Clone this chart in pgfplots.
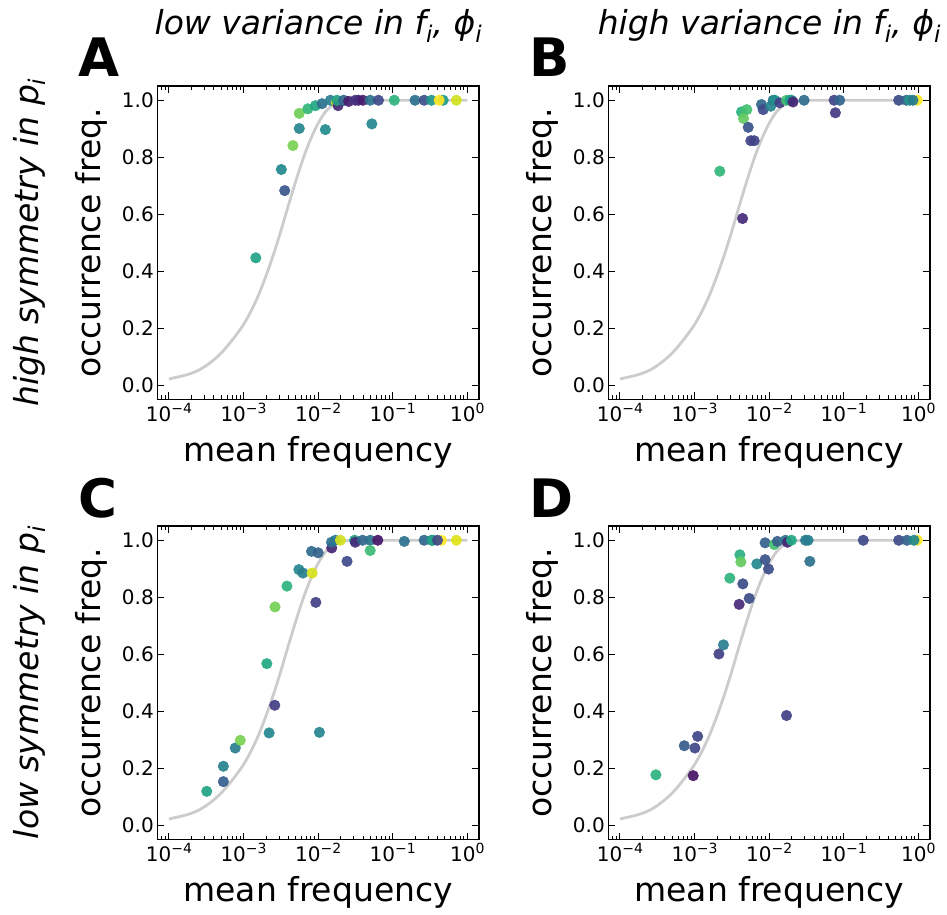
\documentclass[border=0pt]{standalone}
\usepackage{fontspec}
\setmainfont{DejaVu Sans}[ItalicFont={DejaVu Sans Oblique},BoldFont={DejaVu Sans Bold},BoldItalicFont={DejaVu Sans Bold Oblique}]
\usepackage{pgfplots}
\usepackage{pgfplotstable}
\pgfplotsset{compat=1.18}
\definecolor{curvegray}{RGB}{204,204,204}
\pgfplotsset{colormap={myviridis}{rgb255=(68,1,84) rgb255=(71,19,101) rgb255=(72,36,117) rgb255=(70,52,128) rgb255=(65,68,135) rgb255=(59,82,139) rgb255=(53,95,141) rgb255=(47,108,142) rgb255=(42,120,142) rgb255=(37,132,142) rgb255=(33,145,140) rgb255=(30,156,137) rgb255=(34,168,132) rgb255=(47,180,124) rgb255=(68,191,112) rgb255=(94,201,98) rgb255=(122,209,81) rgb255=(155,217,60) rgb255=(189,223,38) rgb255=(223,227,24) rgb255=(253,231,37)}}
\newcommand{\tp}[1]{10\raisebox{0.42em}{\fontsize{14}{14}\selectfont #1}}
\newcommand{\sub}[1]{\raisebox{-0.22em}{\fontsize{23}{23}\selectfont #1}}
\newcommand{\bigfont}{\fontsize{33}{40}\selectfont}

\pgfplotstableread{
x y
1e-4 0.022
1.259e-4 0.028
1.585e-4 0.034
1.995e-4 0.042
2.512e-4 0.053
3.162e-4 0.069
3.981e-4 0.089
5.012e-4 0.113
6.310e-4 0.143
7.943e-4 0.176
1e-3 0.213
1.259e-3 0.260
1.585e-3 0.316
1.995e-3 0.383
2.512e-3 0.458
3.162e-3 0.541
3.981e-3 0.630
5.012e-3 0.716
6.310e-3 0.796
7.943e-3 0.864
1e-2 0.919
1.259e-2 0.960
1.585e-2 0.984
1.995e-2 0.995
2.512e-2 0.999
3.162e-2 1.0
5.012e-2 1.0
1e-1 1.0
0.3162 1.0
1 1.0
}\curvedata

\pgfplotstableread{
x y c
1.459e-3 0.447 0.58
3.21e-3 0.757 0.47
3.56e-3 0.683 0.27
4.59e-3 0.841 0.80
5.58e-3 0.901 0.45
5.58e-3 0.954 0.78
7.28e-3 0.970 0.66
9.20e-3 0.981 0.60
1.13e-2 0.988 0.37
1.25e-2 0.897 0.48
1.46e-2 1.0 0.42
1.75e-2 0.993 0.92
1.85e-2 0.981 0.12
1.79e-2 1.0 0.57
2.20e-2 1.0 0.33
2.56e-2 0.996 0.08
3.15e-2 1.0 0.15
3.48e-2 1.0 0.13
3.98e-2 1.0 0.08
4.99e-2 1.0 0.38
5.25e-2 0.917 0.46
6.44e-2 1.0 0.22
0.105 1.0 0.65
0.199 1.0 0.37
0.264 1.0 0.24
0.331 1.0 0.53
0.474 1.0 0.55
0.419 1.0 1.0
0.713 1.0 0.93
}\dataA

\pgfplotstableread{
x y c
2.18e-3 0.751 0.66
4.40e-3 0.585 0.12
4.26e-3 0.959 0.64
5.02e-3 0.967 0.70
4.53e-3 0.936 0.76
5.24e-3 0.905 0.26
5.68e-3 0.858 0.20
6.30e-3 0.858 0.20
7.89e-3 0.985 0.33
8.32e-3 0.967 0.22
1.05e-2 0.979 0.45
1.13e-2 1.0 0.40
1.19e-2 1.0 0.50
1.39e-2 0.991 0.19
1.71e-2 1.0 0.70
1.89e-2 1.0 0.60
1.99e-2 1.0 0.55
2.09e-2 0.994 0.10
2.94e-2 1.0 0.36
7.43e-2 1.0 0.20
8.83e-2 1.0 0.32
7.73e-2 0.956 0.17
0.546 1.0 0.23
0.690 1.0 0.31
0.970 1.0 1.0
0.766 1.0 0.52
0.849 1.0 0.42
}\dataB

\pgfplotstableread{
x y c
3.21e-4 0.119 0.58
5.36e-4 0.207 0.44
5.36e-4 0.153 0.30
7.74e-4 0.271 0.42
9.04e-4 0.298 0.80
2.05e-3 0.567 0.60
2.20e-3 0.324 0.46
2.62e-3 0.421 0.18
2.64e-3 0.766 0.79
3.82e-3 0.839 0.65
5.52e-3 0.897 0.46
6.25e-3 0.885 0.43
8.15e-3 0.961 0.35
1.0e-2 0.956 0.31
8.32e-3 0.885 0.94
9.31e-3 0.782 0.19
1.04e-2 0.326 0.45
1.52e-2 0.973 0.10
1.51e-2 0.993 0.37
1.70e-2 1.0 0.40
1.99e-2 1.0 0.93
2.44e-2 0.926 0.22
3.08e-2 1.0 0.58
3.15e-2 0.993 0.12
3.94e-2 1.0 0.33
4.99e-2 1.0 0.38
4.99e-2 0.964 0.68
6.31e-2 1.0 0.06
0.143 0.996 0.37
0.264 1.0 0.33
0.331 1.0 0.50
0.348 1.0 0.58
0.450 1.0 1.0
0.398 1.0 0.22
0.713 1.0 0.95
}\dataC

\pgfplotstableread{
x y c
3.03e-4 0.177 0.64
9.59e-4 0.174 0.05
7.28e-4 0.279 0.29
1.01e-3 0.271 0.21
1.10e-3 0.312 0.21
2.12e-3 0.601 0.19
2.44e-3 0.633 0.42
2.97e-3 0.867 0.65
3.96e-3 0.775 0.12
4.05e-3 0.949 0.63
4.18e-3 0.924 0.76
4.44e-3 0.847 0.23
5.40e-3 0.796 0.23
6.84e-3 0.917 0.46
8.83e-3 0.932 0.25
8.83e-3 0.991 0.30
9.80e-3 0.899 0.23
1.17e-2 0.985 0.70
1.29e-2 0.996 0.30
1.71e-2 0.385 0.19
1.66e-2 1.0 0.40
1.76e-2 0.993 0.10
1.99e-2 1.0 0.60
3.07e-2 1.0 0.40
3.33e-2 1.0 0.43
3.51e-2 0.926 0.37
0.183 1.0 0.22
0.546 1.0 0.22
0.705 1.0 0.31
0.970 1.0 1.0
0.875 1.0 0.46
}\dataD

\pgfplotsset{every axis/.append style={
  xmode=log, scale only axis, width=321.7pt, height=313.5pt,
  anchor=south west,
  xmin=6.97e-5, xmax=1.435, ymin=-0.05, ymax=1.05,
  xtick={1e-4,1e-3,1e-2,1e-1,1},
  xticklabels={\tp{−4},\tp{−3},\tp{−2},\tp{−1},\tp{0}},
  minor xtick={7e-5,8e-5,9e-5,2e-4,3e-4,4e-4,5e-4,6e-4,7e-4,8e-4,9e-4,2e-3,3e-3,4e-3,5e-3,6e-3,7e-3,8e-3,9e-3,2e-2,3e-2,4e-2,5e-2,6e-2,7e-2,8e-2,9e-2,2e-1,3e-1,4e-1,5e-1,6e-1,7e-1,8e-1,9e-1},
  ytick={0,0.2,0.4,0.6,0.8,1},
  yticklabels={0.0,0.2,0.4,0.6,0.8,1.0},
  tick align=inside, major tick length=7pt, minor tick length=4pt,
  every tick/.style={black, line width=1pt},
  axis line style={line width=1.2pt},
  ticklabel style={font=\fontsize{20}{24}\selectfont},
  colormap name=myviridis, point meta min=0, point meta max=1,
}}

\begin{document}
\begin{tikzpicture}[x=1pt,y=1pt]
\useasboundingbox (0,0) rectangle (947,914);
\begin{axis}[at={(157.3pt,514.5pt)}]
\addplot[curvegray, line width=2.8pt, smooth, no marks] table[x=x,y=y] {\curvedata};
\addplot[scatter, only marks, mark=*, mark size=5.3pt, scatter src=explicit, fill opacity=0.92, draw opacity=0.92, scatter/use mapped color={draw=mapped color, fill=mapped color}] table[x=x,y=y,meta=c] {\dataA};
\end{axis}
\begin{axis}[at={(608.3pt,514.5pt)}]
\addplot[curvegray, line width=2.8pt, smooth, no marks] table[x=x,y=y] {\curvedata};
\addplot[scatter, only marks, mark=*, mark size=5.3pt, scatter src=explicit, fill opacity=0.92, draw opacity=0.92, scatter/use mapped color={draw=mapped color, fill=mapped color}] table[x=x,y=y,meta=c] {\dataB};
\end{axis}
\begin{axis}[at={(157.3pt,74.5pt)}]
\addplot[curvegray, line width=2.8pt, smooth, no marks] table[x=x,y=y] {\curvedata};
\addplot[scatter, only marks, mark=*, mark size=5.3pt, scatter src=explicit, fill opacity=0.92, draw opacity=0.92, scatter/use mapped color={draw=mapped color, fill=mapped color}] table[x=x,y=y,meta=c] {\dataC};
\end{axis}
\begin{axis}[at={(608.3pt,74.5pt)}]
\addplot[curvegray, line width=2.8pt, smooth, no marks] table[x=x,y=y] {\curvedata};
\addplot[scatter, only marks, mark=*, mark size=5.3pt, scatter src=explicit, fill opacity=0.92, draw opacity=0.92, scatter/use mapped color={draw=mapped color, fill=mapped color}] table[x=x,y=y,meta=c] {\dataD};
\end{axis}
% axis labels
\node[anchor=base, font=\bigfont] at (318.15,452.3) {mean frequency};
\node[anchor=base, font=\bigfont] at (769.15,452.3) {mean frequency};
\node[anchor=base, font=\bigfont] at (318.15,12.3) {mean frequency};
\node[anchor=base, font=\bigfont] at (769.15,12.3) {mean frequency};
\node[anchor=base, rotate=90, font=\bigfont] at (100,671.25) {occurrence freq.};
\node[anchor=base, rotate=90, font=\bigfont] at (551,671.25) {occurrence freq.};
\node[anchor=base, rotate=90, font=\bigfont] at (100,231.25) {occurrence freq.};
\node[anchor=base, rotate=90, font=\bigfont] at (551,231.25) {occurrence freq.};
% row labels
\node[anchor=base, rotate=90, font=\bigfont\itshape] at (38.3,671.25) {high symmetry in p\sub{i}};
\node[anchor=base, rotate=90, font=\bigfont\itshape] at (38.3,231.25) {low symmetry in p\sub{i}};
% column titles
\node[anchor=base, font=\bigfont\itshape] at (318.15,879) {low variance in f\sub{i}, ϕ\sub{i}};
\node[anchor=base, font=\bigfont\itshape] at (769.15,879) {high variance in f\sub{i}, ϕ\sub{i}};
% panel letters
\node[anchor=base west, inner sep=0pt, font=\fontsize{53}{60}\selectfont\bfseries] at (78,837) {A};
\node[anchor=base west, inner sep=0pt, font=\fontsize{53}{60}\selectfont\bfseries] at (529,837) {B};
\node[anchor=base west, inner sep=0pt, font=\fontsize{53}{60}\selectfont\bfseries] at (78,397) {C};
\node[anchor=base west, inner sep=0pt, font=\fontsize{53}{60}\selectfont\bfseries] at (529,397) {D};
\end{tikzpicture}
\end{document}
